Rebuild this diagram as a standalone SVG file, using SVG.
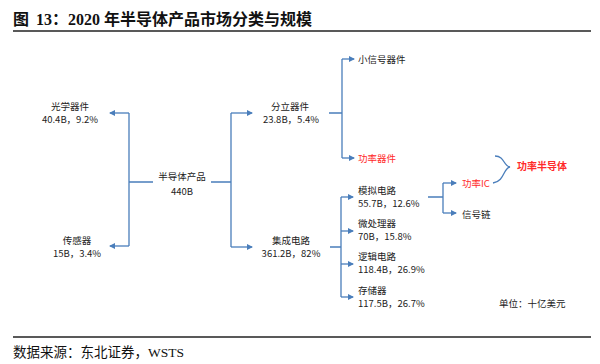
<svg xmlns="http://www.w3.org/2000/svg" width="600" height="364" viewBox="0 0 600 364">
<defs>
<marker id="ah" markerWidth="6" markerHeight="6" refX="5" refY="3" orient="auto" markerUnits="userSpaceOnUse">
<path d="M0,0 L6,3 L0,6 Z" fill="#4a7ebb"/>
</marker>
<style>
.t{font-family:"Noto Sans CJK SC","Liberation Sans",sans-serif;font-size:9.5px;fill:#222}
.r{fill:#ff2a2a}
.c{text-anchor:middle}
.ln{fill:none;stroke:#4a7ebb;stroke-width:1.3}
.ar{fill:none;stroke:#4a7ebb;stroke-width:1.3;marker-end:url(#ah)}
.rule{stroke:#222;stroke-width:1.5}
.serif{font-family:"Liberation Serif","Noto Sans CJK SC",serif;fill:#111}
</style>
</defs>
<rect width="600" height="364" fill="#fff"/>
<g id="title"><text class="serif" x="13" y="25" style="font-size:16px;font-weight:bold">图</text><text class="serif" x="36" y="25" style="font-size:16px;font-weight:bold">13：2020 年半导体产品市场分类与规模</text></g>
<line class="rule" x1="13" y1="31" x2="591" y2="31"/>
<line class="rule" x1="13" y1="337" x2="591" y2="337"/>
<g id="source"><text class="serif" x="13" y="357" style="font-size:13.5px">数据来源：东北证券，WSTS</text></g>

<g id="connectors">
<path class="ln" d="M153,182 H129 M129,113 V246"/>
<path class="ar" d="M129,113 H110"/>
<path class="ar" d="M129,246 H110"/>
<path class="ln" d="M211,182 H231 M231,113 V247"/>
<path class="ar" d="M231,113 H252"/>
<path class="ar" d="M231,247 H252"/>
<path class="ln" d="M329,113 H342 M342,59 V158"/>
<path class="ar" d="M342,59 H354"/>
<path class="ar" d="M342,158 H354"/>
<path class="ln" d="M330,247 H341 M341,197 V297"/>
<path class="ar" d="M341,197 H353"/>
<path class="ar" d="M341,231 H353"/>
<path class="ar" d="M341,264 H353"/>
<path class="ar" d="M341,297 H353"/>
<path class="ln" d="M428,197 H443 M443,183 V213"/>
<path class="ar" d="M443,183 H456"/>
<path class="ar" d="M443,213 H456"/>
<path class="ln" d="M495,156 C505,156 503,166 510,167 C503,168 505,181 493,183"/>
</g>

<g id="n-root"><text class="t c" x="182" y="180">半导体产品</text><text class="t c" x="182" y="195">440B</text></g>
<g id="n-optical"><text class="t c" x="70" y="110">光学器件</text><text class="t c" x="70" y="123">40.4B，9.2%</text></g>
<g id="n-sensor"><text class="t c" x="77" y="244">传感器</text><text class="t c" x="77" y="257">15B，3.4%</text></g>
<g id="n-discrete"><text class="t c" x="290" y="110">分立器件</text><text class="t c" x="291" y="123">23.8B，5.4%</text></g>
<g id="n-ic"><text class="t c" x="291" y="244">集成电路</text><text class="t c" x="291" y="257">361.2B，82%</text></g>
<g id="n-small"><text class="t" x="358" y="63">小信号器件</text></g>
<g id="n-power"><text class="t r" x="358" y="162">功率器件</text></g>
<g id="n-analog"><text class="t" x="358" y="194">模拟电路</text><text class="t" x="358" y="207">55.7B，12.6%</text></g>
<g id="n-micro"><text class="t" x="358" y="227">微处理器</text><text class="t" x="358" y="240">70B，15.8%</text></g>
<g id="n-logic"><text class="t" x="358" y="260">逻辑电路</text><text class="t" x="358" y="273">118.4B，26.9%</text></g>
<g id="n-memory"><text class="t" x="358" y="294">存储器</text><text class="t" x="358" y="307">117.5B，26.7%</text></g>
<g id="n-poweric"><text class="t r" x="462" y="187">功率IC</text></g>
<g id="n-signal"><text class="t" x="462" y="218">信号链</text></g>
<g id="n-powersemi"><text class="t r" x="517" y="170" style="font-weight:bold;font-size:10px">功率半导体</text></g>
<g id="unit"><text class="t" x="499" y="307">单位：十亿美元</text></g>
</svg>
